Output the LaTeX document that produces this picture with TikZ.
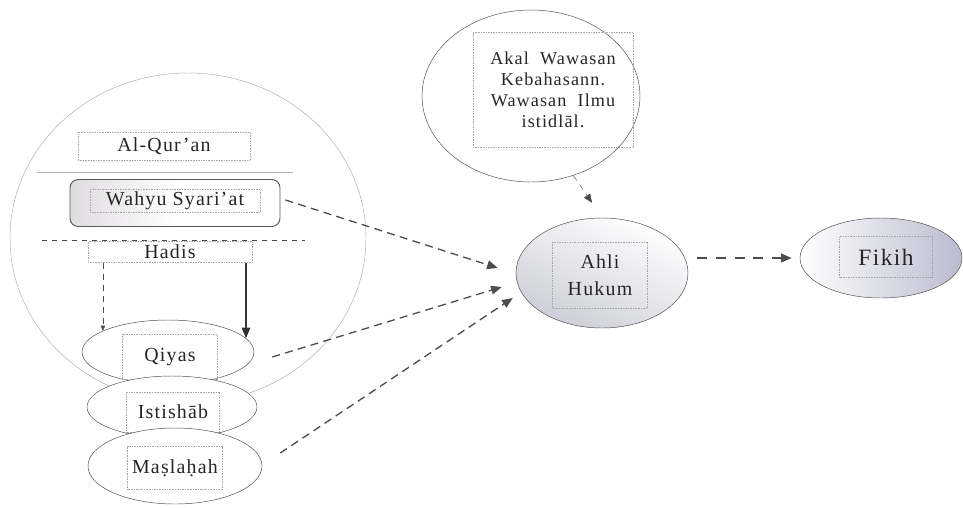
\documentclass[tikz,border=0pt]{standalone}
\usepackage{fontspec}
\setmainfont{Liberation Serif}[LetterSpace=6]
\usetikzlibrary{positioning,arrows.meta,shapes.geometric,calc}

\begin{document}
\begin{tikzpicture}[
    x=0.3mm, y=-0.3mm,
    every node/.style={font=\fontsize{17}{20}\selectfont, text=black!85},
    tbox/.style={draw=gray!70, densely dotted, thin, inner sep=0pt, align=center},
    oval/.style={ellipse, draw=gray!60!black, thin, fill=white, inner sep=0pt},
    darr/.style={-{Triangle[length=3.2mm,width=2.6mm]}, black!70,
                 line width=1.1pt, dash pattern=on 2.4mm off 1.6mm},
    sarr/.style={-{Triangle[length=3.2mm,width=2.6mm]}, black!80, line width=1.1pt},
]
    \useasboundingbox (0,0) rectangle (963,507);
    %% the big circle of sources
    \node[ellipse, draw=gray!65, thin, minimum width=106.8mm,
          minimum height=99mm, inner sep=0pt] (dalil) at (188,238) {};
    \node[tbox, minimum width=51.6mm, minimum height=8.4mm] (quran) at (164,146) {Al-Qur'an};
    \coordinate (sepa) at (37,172);
    \coordinate (sepb) at (293,172);
    \draw[gray!60, thin] (sepa) -- (sepb);
    \node[rectangle, rounded corners=2.5mm, draw=black!65, line width=0.8pt,
          left color=violet!12!gray!25, right color=white, middle color=white,
          minimum width=63mm, minimum height=14.1mm] (wahyubg) at (175,203) {};
    \node[tbox, minimum width=51mm, minimum height=6.9mm] (wahyu) at (175,201) {Wahyu Syari'at};
    \coordinate (sepc) at (42,240);
    \coordinate (sepd) at (305,240);
    \draw[black!70, line width=0.8pt, dash pattern=on 1.5mm off 1.5mm] (sepc) -- (sepd);
    \node[tbox, minimum width=49.2mm, minimum height=6.3mm] (hadis) at (170,252) {Hadis};
    %% qiyas, istishab, maslahah
    \node[oval, minimum width=51.6mm, minimum height=19.2mm] (qiyasov) at (168,352) {};
    \node[tbox, minimum width=28.5mm, minimum height=13.5mm] (qiyas) at (170,357) {Qiyas};
    \node[oval, minimum width=51mm, minimum height=18.6mm] (istisov) at (172,407) {};
    \node[tbox, minimum width=27.9mm, minimum height=12mm] (istis) at (173,412) {Istishāb};
    \node[oval, minimum width=52.2mm, minimum height=22.8mm] (maslov) at (175,466) {};
    \node[tbox, minimum width=28.5mm, minimum height=12.9mm] (masl) at (175,468) {Maṣlaḥah};
    \draw[-{Triangle[length=1.6mm,width=1.4mm]}, black!70, thin,
          dash pattern=on 1.8mm off 1.5mm] (hadis.south -| qiyasov.162) -- (qiyasov.162);
    \draw[sarr] (hadis.south -| qiyasov.10) -- (qiyasov.10);
    %% right side
    \node[oval, minimum width=65.4mm, minimum height=51.6mm] (akalov) at (531,96) {};
    \node[tbox, minimum width=48mm, minimum height=34.5mm,
          font=\fontsize{15.5}{18}\selectfont] (akal) at (553,90)
        {Akal\ \ Wawasan\\Kebahasann.\\Wawasan\ \ Ilmu\\istidlāl.};
    \node[oval, top color=white, bottom color=blue!12!gray!35, shading angle=-25,
          minimum width=51.6mm, minimum height=33mm] (ahliov) at (602,273) {};
    \node[tbox, minimum width=28.5mm, minimum height=19.8mm,
          font=\fontsize{17}{23}\selectfont] (ahli) at (600,275) {Ahli\\Hukum};
    \node[oval, left color=white, right color=blue!18!gray!45,
          minimum width=48.6mm, minimum height=24mm] (fikihov) at (881,258) {};
    \node[tbox, minimum width=27.9mm, minimum height=12.3mm,
          font=\fontsize{20}{23}\selectfont] (fikih) at (886,257) {Fikih};
    %% arrows into ahli hukum
    \draw[darr] ($(wahyubg.east)+(5,-3)$) -- ($(ahliov.west)+(-18,-5)$);
    \draw[darr] ($(qiyasov.east)+(18,5)$) -- ($(ahliov.west)+(-14,14)$);
    \draw[darr] ($(maslov.east)+(18,-13)$) -- ($(ahliov.west)+(-3,25)$);
    \draw[-{Triangle[length=2.6mm,width=2.2mm]}, black!70, thin,
          dash pattern=on 1.8mm off 1.5mm] (akalov.-62) -- ($(ahliov.north)+(-10,-15)$);
    \draw[darr, line width=1.5pt, dash pattern=on 3mm off 2.6mm,
          shorten <=2.7mm, shorten >=2.4mm] (ahliov.east |- fikihov.west) -- (fikihov.west);
\end{tikzpicture}
\end{document}
